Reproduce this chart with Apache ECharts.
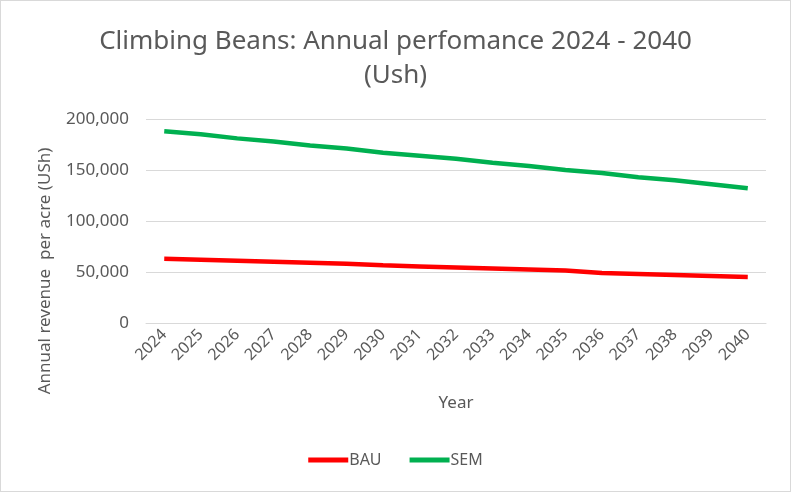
<!DOCTYPE html>
<html>
<head>
<meta charset="utf-8">
<script src="https://cdn.jsdelivr.net/npm/echarts@6/dist/echarts.min.js"></script>
<style>
  html, body { margin: 0; padding: 0; background: #fff; }
  #chart { width: 789px; height: 490px; border: 1px solid #d9d9d9; }
</style>
</head>
<body>
<div id="chart"></div>
<script>
// Years on the horizontal axis
const years = ['2024','2025','2026','2027','2028','2029','2030','2031','2032',
               '2033','2034','2035','2036','2037','2038','2039','2040'];
// Annual revenue per acre (USh), business as usual
const bau = [63000, 62000, 61000, 60000, 59000, 58000, 56500, 55500, 54500,
             53500, 52500, 51500, 49000, 48000, 47000, 46000, 45000];
// Annual revenue per acre (USh), SEM scenario
const sem = [188000, 185000, 181000, 178000, 174000, 171000, 167000, 164000, 161000,
             157000, 154000, 150000, 147000, 143000, 140000, 136000, 132000];

const textColor = '#595959';
const font = 'Noto Sans';

const chart = echarts.init(document.getElementById('chart'));
chart.setOption({
  animation: false,
  title: {
    text: 'Climbing Beans: Annual perfomance 2024 - 2040\n(Ush)',
    left: 'center',
    top: 19,
    textStyle: { color: textColor, fontFamily: font, fontWeight: 'normal', fontSize: 26, lineHeight: 34 }
  },
  // vertical axis title, centred on the axis labels and plot
  graphic: [{
    type: 'text',
    x: 44,
    y: 270,
    rotation: Math.PI / 2,
    style: {
      text: 'Annual revenue  per acre (USh)',
      fill: textColor,
      font: '17px "Noto Sans"',
      align: 'center',
      verticalAlign: 'middle'
    }
  }],
  grid: { left: 145, right: 24, top: 118, bottom: 168 },
  legend: {
    bottom: 18,
    left: 'center',
    icon: 'rect',
    itemWidth: 40,
    itemHeight: 5,
    itemGap: 28,
    textStyle: { color: textColor, fontFamily: font, fontSize: 16, padding: [0, 0, 0, -4] },
    data: ['BAU', 'SEM']
  },
  xAxis: {
    type: 'category',
    data: years,
    boundaryGap: true,
    name: 'Year',
    nameLocation: 'middle',
    nameGap: 72,
    nameTextStyle: { color: textColor, fontFamily: font, fontSize: 17 },
    axisLine: { lineStyle: { color: '#d9d9d9', width: 1 } },
    axisTick: { show: false },
    axisLabel: { rotate: 45, color: textColor, fontFamily: font, fontSize: 16, margin: 9 }
  },
  yAxis: {
    type: 'value',
    min: 0,
    max: 200000,
    interval: 50000,
    axisLine: { show: false },
    axisTick: { show: false },
    splitLine: { lineStyle: { color: '#d9d9d9', width: 1 } },
    axisLabel: {
      color: textColor, fontFamily: font, fontSize: 17, margin: 17,
      formatter: v => v.toLocaleString('en-US')
    }
  },
  series: [
    {
      name: 'BAU', type: 'line', data: bau, showSymbol: false,
      lineStyle: { color: '#ff0000', width: 4.5 }, itemStyle: { color: '#ff0000' }
    },
    {
      name: 'SEM', type: 'line', data: sem, showSymbol: false,
      lineStyle: { color: '#00b050', width: 4.5 }, itemStyle: { color: '#00b050' }
    }
  ]
});
</script>
</body>
</html>
